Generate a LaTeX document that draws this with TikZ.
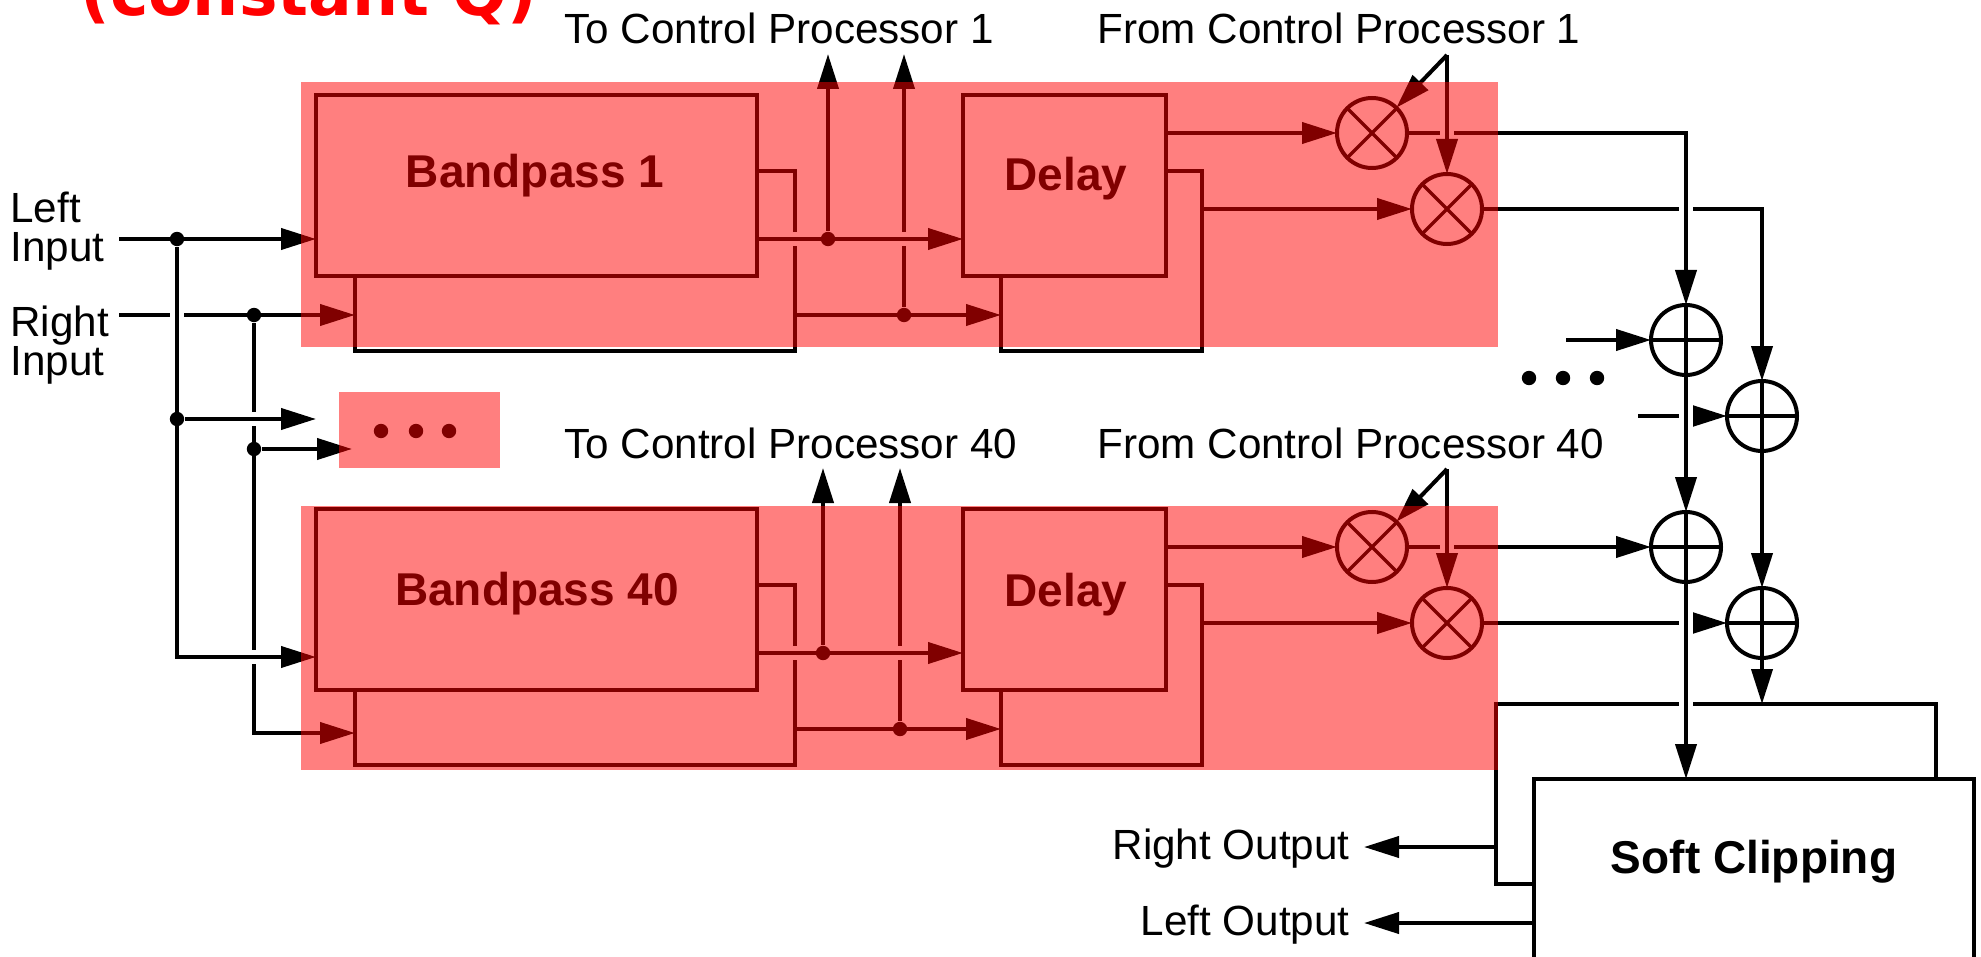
\documentclass[tikz,border=0pt]{standalone}
\usepackage{fontspec}
\setmainfont{Liberation Sans}
\newfontfamily\titlefont{DejaVu Sans}
\usetikzlibrary{arrows.meta, positioning}
\tikzset{
  wire/.style={line width=2pt},
  halo/.style={preaction={draw=white, -, line width=7pt, shorten <=4pt, shorten >=8pt}},
  blockbox/.style={draw, fill=white, line width=2pt, inner sep=0pt, outer sep=0pt},
  junction/.style={circle, fill=black, inner sep=0pt, minimum size=7.2pt},
  mixer/.style={circle, draw, line width=2pt, inner sep=0pt, outer sep=0pt, minimum size=35pt,
    path picture={\draw[line width=1.75pt] (path picture bounding box.north west) -- (path picture bounding box.south east) (path picture bounding box.north east) -- (path picture bounding box.south west);}},
  adder/.style={circle, draw, line width=2pt, inner sep=0pt, outer sep=0pt, minimum size=35pt,
    path picture={\draw[line width=1.75pt] (path picture bounding box.west) -- (path picture bounding box.east) (path picture bounding box.north) -- (path picture bounding box.south);}},
  band/.style={fill=red, fill opacity=0.5, inner sep=0pt, outer sep=0pt},
  lbl/.style={font=\fontsize{21.1}{19}\selectfont, inner sep=0pt, text height=15pt, text depth=0pt},
  inputlbl/.style={font=\fontsize{21.1}{19.2}\selectfont, inner sep=0pt, align=left, anchor=west},
  blocktext/.style={font=\fontsize{23}{24}\selectfont\bfseries, inner sep=0pt, text height=16pt, text depth=0pt}
}

\begin{document}
\begin{tikzpicture}[x=0.5pt, y=-0.5pt, >={Stealth[length=17.5pt, width=10.5pt, inset=0pt]}]
\useasboundingbox (0,0) rectangle (1981,957);
\node[anchor=base west, inner sep=0pt, text=red, font=\titlefont\fontsize{32.4}{34}\selectfont\bfseries] (titleq) at (80,16) {(constant Q)};
% channel 1 blocks
\node[blockbox, minimum width=220pt, minimum height=90pt] (bb1) at (575,261) {};
\node[blockbox, minimum width=220.5pt, minimum height=90.5pt] (bp1) at (536.5,185.5) {};
\node[blockbox, minimum width=100.5pt, minimum height=90pt, right=103pt of bb1] (db1) {};
\node[blockbox, minimum width=101.5pt, minimum height=90.5pt, right=103pt of bp1] (dl1) {};
% channel 40 blocks
\node[blockbox, minimum width=220pt, minimum height=90pt, below=117pt of bb1] (bb40) {};
\node[blockbox, minimum width=220.5pt, minimum height=90.5pt, below=116.5pt of bp1] (bp40) {};
\node[blockbox, minimum width=100.5pt, minimum height=90pt, right=103pt of bb40] (db40) {};
\node[blockbox, minimum width=101.5pt, minimum height=90.5pt, right=103pt of bp40] (dl40) {};
\node[blockbox, minimum width=220pt, minimum height=90pt] (sb) at (1716,794) {};
\node[blockbox, minimum width=220pt, minimum height=90pt] (sf) at (1754,869) {};
\node[blocktext] (bp1t) at (535,172) {Bandpass 1};
\node[blocktext] (bp40t) at (537,589) {Bandpass 40};
\node[blocktext] (dl1t) at (1066,175) {Delay};
\node[blocktext] (dl40t) at (1066,590) {Delay};
\node[blocktext] (sft) at (1754,857) {Soft Clipping};
% mixers and adders
\node[mixer] (m11) at (1372,133) {};
\node[mixer] (m12) at (1447,209) {};
\node[mixer] (m401) at (1372,547) {};
\node[mixer] (m402) at (1447,623) {};
\node[adder] (a1) at (1686,340) {};
\node[adder] (a2) at (1762,416) {};
\node[adder] (a3) at (1686,547) {};
\node[adder] (a4) at (1762,623) {};
% texts
\node[inputlbl] (lin) at (10,231) {Left\\Input};
\node[inputlbl] (rin) at (10,345) {Right\\Input};
\node[lbl, anchor=west] (toc1) at (564,29) {To Control Processor 1};
\node[lbl, anchor=west] (from1) at (1097,29) {From Control Processor 1};
\node[lbl, anchor=west] (toc40) at (564,443) {To Control Processor 40};
\node[lbl, anchor=west] (from40) at (1097,443) {From Control Processor 40};
\node[lbl, anchor=east, inner xsep=7pt, text height=12pt] (rout) at (1364,847) {Right Output};
\node[lbl, anchor=east, inner xsep=7pt, text height=12pt] (lout) at (1364,923) {Left Output};
% named points
\coordinate (lin1) at (119,239);
\coordinate (rin1) at (119,315);
\coordinate (cl40) at (177,657);
\coordinate (cr40) at (254,733);
\coordinate (tl2) at (316,419);
\coordinate (tr2) at (352,449);
\coordinate (o1) at (828,239);
\coordinate (o40) at (823,653);
\coordinate (tc1a) at (828,54);
\coordinate (tc1b) at (904,54);
\coordinate (tc40a) at (823,468);
\coordinate (tc40b) at (900,468);
\coordinate (ap1) at (1447,55);
\coordinate (ap40) at (1447,469);
\coordinate (ai1) at (1566,340);
\coordinate (ai2) at (1638,416);
% inputs
\node[junction] (jl1) at (177,239) {};
\node[junction] (jr1) at (254,315) {};
\node[junction] (jr2) at (254,449) {};
\draw[wire, ->] (lin1) -- (bp1.west |- lin1);
\draw[wire, ->] (rin1) -- (bb1.west |- rin1);
\draw[wire, ->] (jr1) |- (bb40.west |- cr40);
\draw[wire, halo, ->] (jl1) |- (bp40.west |- cl40);
\node[junction] (jl2) at (177,419) {};
\draw[wire, halo, ->] (jl2) -- (tl2);
\draw[wire, ->] (jr2) -- (tr2);
% channel 1 wires
\node[junction] (jc1b) at (904,315) {};
\draw[wire, ->] (bb1.east |- jc1b) -- (db1.west |- jc1b);
\draw[wire, ->] (jc1b) -- (tc1b);
\draw[wire, halo, ->] (bp1.east |- o1) -- (dl1.west |- o1);
\node[junction] (jc1a) at (o1) {};
\draw[wire, ->] (jc1a) -- (tc1a);
\draw[wire, ->] (dl1.east |- m11) -- (m11);
\draw[wire, ->] (db1.east |- m12) -- (m12);
% channel 40 wires
\node[junction] (jc40b) at (900,729) {};
\draw[wire, ->] (bb40.east |- jc40b) -- (db40.west |- jc40b);
\draw[wire, ->] (jc40b) -- (tc40b);
\draw[wire, halo, ->] (bp40.east |- o40) -- (dl40.west |- o40);
\node[junction] (jc40a) at (o40) {};
\draw[wire, ->] (jc40a) -- (tc40a);
\draw[wire, ->] (dl40.east |- m401) -- (m401);
\draw[wire, ->] (db40.east |- m402) -- (m402);
% mixer outputs and control inputs
\draw[wire, ->] (m12.east) -| (a2.north);
\draw[wire, halo, ->] (m11.east) -| (a1.north);
\draw[wire, halo, ->] (ap1) -- (m12);
\draw[wire, ->] (ap1) -- (m11);
\draw[wire, ->] (m402.east) -- (a4.west);
\draw[wire, ->] (m401.east) -- (a3.west);
\draw[wire, halo, ->] (ap40) -- (m402);
\draw[wire, ->] (ap40) -- (m401);
% adders to soft clipping
\draw[wire, ->] (ai1) -- (a1.west);
\draw[wire, ->] (ai2) -- (a2.west);
\draw[wire, halo, ->] (a1.south) -- (a3.north);
\draw[wire, ->] (a2.south) -- (a4.north);
\draw[wire, halo, ->] (a3.south) -- (a3.south |- sf.north);
\draw[wire, ->] (a4.south) -- (a4.south |- sb.north);
\draw[wire, ->] (sb.west |- rout) -- (rout.east);
\draw[wire, ->] (sf.west |- lout) -- (lout.east);
% dots
\node[junction] (dr1) at (1529,378) {};
\node[junction] (dr2) at (1563,378) {};
\node[junction] (dr3) at (1597,378) {};
\node[junction] (dd1) at (381,431) {};
\node[junction] (dd2) at (416,431) {};
\node[junction] (dd3) at (449,431) {};
% red bands on top
\node[band, minimum width=598.5pt, minimum height=132.5pt] (band1) at (899.5,214.5) {};
\node[band, minimum width=598.5pt, minimum height=132pt, below=79.5pt of band1] (band40) {};
\node[band, minimum width=80.5pt, minimum height=38pt] (bandd) at (419.5,430) {};
\end{tikzpicture}
\end{document}
